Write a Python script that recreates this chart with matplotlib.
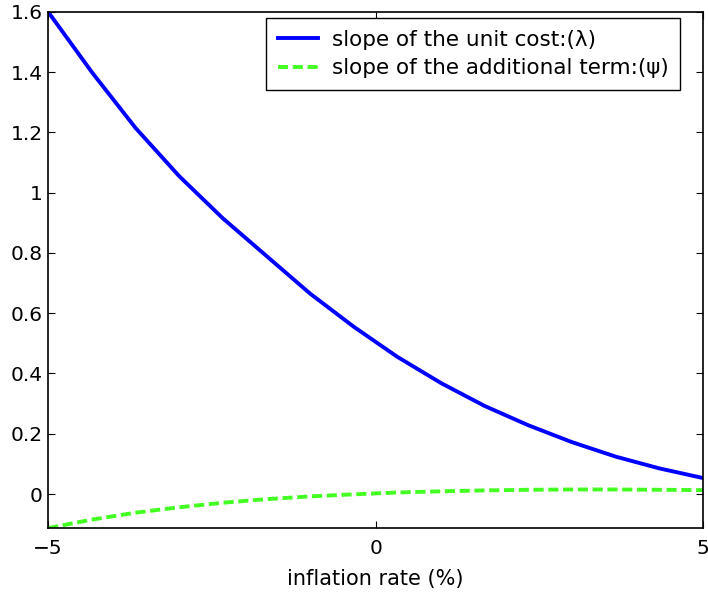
import matplotlib
matplotlib.use('Agg')
import matplotlib.pyplot as plt
import numpy as np

plt.rcParams['font.family'] = ['DejaVu Sans']

# inflation rate (%)
x = np.linspace(-5, 5, 16)
lam = [1.60, 1.40, 1.215, 1.055, 0.915, 0.79, 0.665, 0.555,
       0.455, 0.368, 0.292, 0.228, 0.172, 0.124, 0.085, 0.053]
psi = [-0.113, -0.085, -0.062, -0.044, -0.029, -0.017, -0.008, -0.001,
       0.005, 0.009, 0.012, 0.014, 0.015, 0.015, 0.014, 0.013]

fig = plt.figure(figsize=(7.08, 5.92), dpi=100)
ax = fig.add_axes([0.068, 0.108, 0.925, 0.872])

ax.plot(x, lam, color='#0000ff', lw=2.8, label='slope of the unit cost:(\u03bb)')
ax.plot(x, psi, color='#44ff22', lw=2.8, ls=(0, (2.6, 1.2)),
        label='slope of the additional term:(\u03c8)')

ax.set_xlim(-5, 5)
ax.set_ylim(-0.113, 1.6)
ax.set_xticks([-5, 0, 5])
ax.set_xticklabels(['\u22125', '0', '5'])
ax.set_yticks([0, 0.2, 0.4, 0.6, 0.8, 1, 1.2, 1.4, 1.6])
ax.set_yticklabels(['0', '0.2', '0.4', '0.6', '0.8', '1', '1.2', '1.4', '1.6'])
ax.tick_params(direction='in', top=True, right=True, labelsize=14.5, length=5, width=0.8)
ax.tick_params(axis='x', pad=8)
ax.tick_params(axis='y', pad=4)
for s in ax.spines.values():
    s.set_linewidth(1.2)
ax.set_xlabel('inflation rate (%)', fontsize=15, labelpad=8)

leg = ax.legend(loc='upper right', bbox_to_anchor=(0.965, 0.988), fontsize=15.5,
                fancybox=False, framealpha=1, edgecolor='black', borderaxespad=0,
                handlelength=1.85, handletextpad=0.65, labelspacing=0.38, borderpad=0.55)
leg.get_frame().set_linewidth(1.0)

fig.savefig('out.png', dpi=100)
